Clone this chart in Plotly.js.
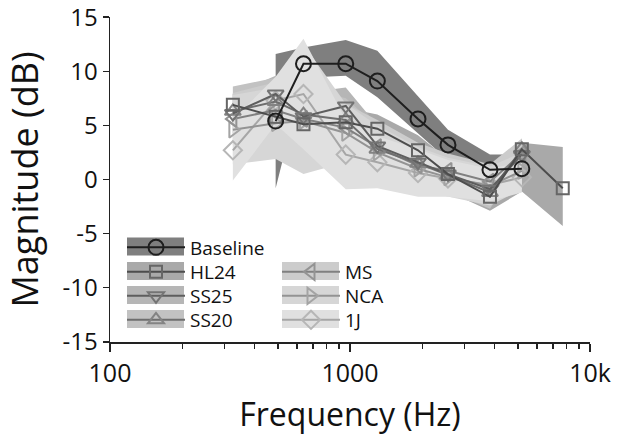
<!DOCTYPE html>
<html>
<head>
<meta charset="utf-8">
<script src="https://cdn.plot.ly/plotly-3.0.1.min.js"></script>
<style>html,body{margin:0;padding:0;background:#fff}#chart{width:618px;height:447px}</style>
</head>
<body>
<div id="chart"></div>
<script>
// frequencies (Hz)
const freq = [325, 490, 640, 960, 1300, 1920, 2560, 3830, 5200];
const baseFreq = [490, 640, 960, 1300, 1920, 2560, 3830, 5200];
const hlFreq = [325, 490, 640, 960, 1300, 1920, 2560, 3830, 5200, 7700];

// magnitude (dB): mean, upper and lower edge of shaded band
const baseMean = [5.4, 10.7, 10.7, 9.1, 5.6, 3.2, 0.9, 1.0];
const baseHi = [11.6, 12.2, 12.9, 11.9, 7.7, 4.6, 2.3, 2.3];
const baseLo = [-0.8, 9.4, 9.6, 7.6, 4.3, 1.8, -0.5, -0.3];

const hlMean = [6.9, 5.8, 5.1, 5.3, 4.7, 2.7, 0.5, -1.6, 2.8, -0.8];
const hlHi = [7.9, 7.2, 6.6, 6.6, 6.0, 4.1, 1.9, 0.3, 3.4, 3.0];
const hlLo = [5.9, 4.4, 3.6, 4.0, 3.4, 1.3, -1.1, -2.9, -1.1, -4.3];

const ss25Mean = [6.1, 7.9, 5.8, 6.8, 3.1, 1.6, 0.5, -0.9, 2.3];
const ss25Hi = [7.9, 9.6, 8.0, 8.5, 5.0, 3.2, 2.0, 0.6, 3.6];
const ss25Lo = [4.3, 6.2, 3.6, 5.1, 1.2, 0.0, -1.0, -2.4, 1.0];

const ss20Mean = [6.3, 7.2, 6.0, 5.5, 2.8, 1.5, 0.4, -1.2, 2.8];
const ss20Hi = [8.6, 9.4, 8.5, 7.5, 4.9, 3.2, 1.9, 0.3, 3.8];
const ss20Lo = [4.0, 5.0, 3.5, 3.5, 0.7, -0.2, -1.1, -2.7, 1.8];

const msMean = [5.6, 6.4, 5.6, 4.8, 3.0, 1.3, 0.8, -0.2, 2.4];
const msHi = [8.0, 9.0, 10.5, 7.0, 5.5, 3.4, 2.4, 1.4, 3.8];
const msLo = [3.2, 3.8, 1.5, 2.6, 0.5, -0.8, -0.8, -1.8, 1.0];

const ncaMean = [4.6, 5.2, 5.4, 4.3, 2.5, 1.0, 0.2, -0.6, 0.8];
const ncaHi = [7.8, 8.5, 12.5, 7.0, 5.0, 3.0, 2.0, 1.2, 2.5];
const ncaLo = [1.4, 1.9, 0.5, 1.6, 0.0, -1.0, -1.6, -2.4, -0.9];

const j1Mean = [2.7, 7.3, 7.9, 2.3, 1.6, 0.6, 0.1, -0.5, 0.2];
const j1Hi = [5.5, 9.5, 13.0, 5.5, 4.0, 2.8, 1.8, 1.0, 1.6];
const j1Lo = [-0.1, 5.1, 2.8, -0.9, -0.8, -1.6, -1.6, -2.0, -1.2];

const yTicks = [-15, -10, -5, 0, 5, 10, 15];
const yTickText = ["-15", "-10", "-5", "0", "5", "10", "15"];

const font = "Open Sans, sans-serif";

const series = [
    { name: "Baseline", x: baseFreq, y: baseMean, hi: baseHi, lo: baseLo, symbol: "circle-open", size: 15, lineColor: "#1e1e1e", markerColor: "#1e1e1e", band: "#7f7f7f" },
    { name: "HL24", x: hlFreq, y: hlMean, hi: hlHi, lo: hlLo, symbol: "square-open", size: 12, lineColor: "#4d4d4d", markerColor: "#666666", band: "#a9a9a9" },
    { name: "SS25", x: freq, y: ss25Mean, hi: ss25Hi, lo: ss25Lo, symbol: "triangle-down-open", size: 14, lineColor: "#5e5e5e", markerColor: "#747474", band: "#b6b6b6" },
    { name: "SS20", x: freq, y: ss20Mean, hi: ss20Hi, lo: ss20Lo, symbol: "triangle-up-open", size: 14, lineColor: "#6e6e6e", markerColor: "#838383", band: "#c2c2c2" },
    { name: "MS", x: freq, y: msMean, hi: msHi, lo: msLo, symbol: "triangle-left-open", size: 14, lineColor: "#808080", markerColor: "#939393", band: "#cccccc" },
    { name: "NCA", x: freq, y: ncaMean, hi: ncaHi, lo: ncaLo, symbol: "triangle-right-open", size: 14, lineColor: "#939393", markerColor: "#a4a4a4", band: "#d6d6d6" },
    { name: "1J", x: freq, y: j1Mean, hi: j1Hi, lo: j1Lo, symbol: "diamond-open", size: 14, lineColor: "#a6a6a6", markerColor: "#b6b6b6", band: "#e0e0e0" },
];

// plot area in pixels
const L = 110, R = 590, T = 17, B = 342;
const px = v => (v - L) / (R - L);
const py = v => (B - v) / (B - T);

// legend slots: swatch left edge and row centre (pixels)
const slotX = [127, 127, 127, 127, 282, 282, 282];
const slotY = [246.5, 271, 295, 319, 271, 295, 319];

const legendName = i => (i === 0 ? "legend" : "legend" + (i + 1));

const bands = series.map(s => ({
    x: s.x.concat(s.x.slice().reverse()),
    y: s.hi.concat(s.lo.slice().reverse()),
    type: "scatter",
    mode: "lines",
    fill: "toself",
    fillcolor: s.band,
    line: { width: 0 },
    hoverinfo: "skip",
    showlegend: false,
}));

const lines = series.map((s, i) => ({
    name: s.name,
    x: s.x,
    y: s.y,
    type: "scatter",
    mode: "lines+markers",
    line: { color: s.lineColor, width: 2 },
    marker: { symbol: s.symbol, size: s.size, color: s.markerColor, line: { width: 2, color: s.markerColor } },
    legend: legendName(i),
})).reverse();

const layout = {
    width: 618,
    height: 447,
    margin: { l: L, r: 618 - R, t: T, b: 447 - B },
    paper_bgcolor: "#fff",
    plot_bgcolor: "#fff",
    font: { family: font, color: "#111" },
    showlegend: true,
    shapes: [],
    xaxis: {
        type: "log",
        range: [2, 4],
        tickvals: [100, 1000, 10000],
        ticktext: ["100", "1000", "10k"],
        ticks: "outside",
        ticklen: 8,
        tickwidth: 1.5,
        tickcolor: "#222",
        minor: { tickvals: [200, 300, 400, 500, 600, 700, 800, 900, 2000, 3000, 4000, 5000, 6000, 7000, 8000, 9000], ticks: "outside", ticklen: 5, tickwidth: 1.5, tickcolor: "#222", showgrid: false },
        showline: true,
        linecolor: "#222",
        linewidth: 1.5,
        showgrid: false,
        zeroline: false,
        ticklabeloverflow: "allow",
        tickfont: { family: font, size: 25, color: "#111" },
        title: { text: "Frequency (Hz)", font: { family: font, size: 32, color: "#111" }, standoff: 16 },
    },
    yaxis: {
        range: [-15.02, 15.02],
        tickvals: yTicks,
        ticktext: yTickText,
        ticks: "outside",
        ticklen: 6,
        tickwidth: 1.5,
        tickcolor: "#222",
        showline: true,
        linecolor: "#222",
        linewidth: 1.5,
        showgrid: false,
        zeroline: false,
        ticklabeloverflow: "allow",
        tickfont: { family: font, size: 24, color: "#111" },
        title: { text: "Magnitude (dB)", font: { family: font, size: 36, color: "#111" }, standoff: 15 },
    },
};

series.forEach((s, i) => {
    layout[legendName(i)] = {
        x: px(slotX[i] - 5),
        y: py(slotY[i] - 18),
        xanchor: "left",
        yanchor: "top",
        bgcolor: "rgba(0,0,0,0)",
        font: { family: font, size: 19, color: "#111" },
        itemwidth: 58,
        itemclick: false,
    };
    // grey swatch behind each legend entry
    layout.shapes.push({
        type: "rect", xref: "paper", yref: "paper", layer: "below",
        x0: px(slotX[i]), x1: px(slotX[i] + 57),
        y0: py(slotY[i] + 9), y1: py(slotY[i] - 9),
        fillcolor: s.band, line: { width: 0 },
    });
});

Plotly.newPlot("chart", bands.concat(lines), layout, { displayModeBar: false, staticPlot: true });
</script>
</body>
</html>
